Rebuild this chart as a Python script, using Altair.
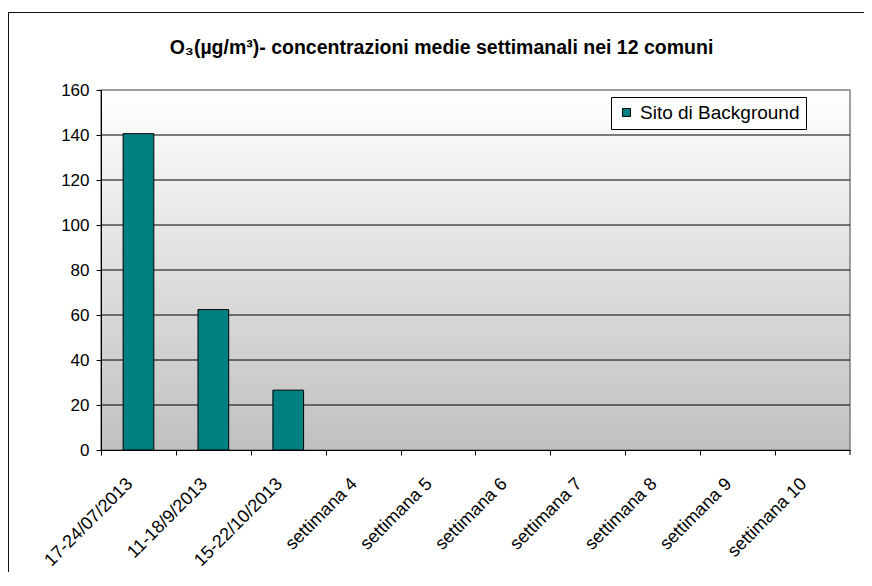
import altair as alt
import pandas as pd

categories = ["17-24/07/2013", "11-18/9/2013", "15-22/10/2013", "settimana 4",
              "settimana 5", "settimana 6", "settimana 7", "settimana 8",
              "settimana 9", "settimana 10"]
values = [140.6, 62.4, 26.6, None, None, None, None, None, None, None]
series_name = "Sito di Background"
grid_values = [20, 40, 60, 80, 100, 120, 140]
y_ticks = [0, 20, 40, 60, 80, 100, 120, 140, 160]
title_text = "O\u2083(\u00b5g/m\u00b3)- concentrazioni medie settimanali nei 12 comuni"

W, H = 749, 360
STEP = W / len(categories)
FONT = "Liberation Sans"

bars_df = pd.DataFrame({"cat": categories, "val": values, "serie": series_name})
grid_df = pd.DataFrame({"g": grid_values})
one = pd.DataFrame({"t": [title_text]})

yscale = alt.Scale(domain=[0, 160], nice=False, zero=True)
y_axis = alt.Axis(
    title=None,
    values=y_ticks,
    labelFont=FONT,
    labelFontSize=17,
    labelColor="black",
    labelPadding=7,
    domainColor="black",
    domainWidth=1,
    tickColor="black",
    tickSize=5,
    grid=False,
    zindex=1,
)

frame_left = alt.Chart(one).mark_rule(color="#111111", strokeWidth=1).encode(
    x=alt.value(-92.5), y=alt.value(-78), y2=alt.value(H + 122)
)
frame_top = alt.Chart(one).mark_rule(color="#111111", strokeWidth=1).encode(
    x=alt.value(-93), x2=alt.value(W + 14), y=alt.value(-77.5)
)

background = alt.Chart(one).mark_rect(
    fill=alt.Gradient(
        gradient="linear",
        stops=[alt.GradientStop(color="#ffffff", offset=0),
               alt.GradientStop(color="#c0c0c0", offset=1)],
        x1=0, x2=0, y1=0, y2=1,
    ),
    stroke="#808080",
    strokeWidth=1.5,
).encode(x=alt.value(0), x2=alt.value(W), y=alt.value(0), y2=alt.value(H))

grid = alt.Chart(grid_df).mark_rule(color="black", strokeWidth=1).encode(
    y=alt.Y("g:Q", scale=yscale, axis=y_axis)
)

end_tick = alt.Chart(one).mark_rule(color="black", strokeWidth=1).encode(
    x=alt.value(W), y=alt.value(H), y2=alt.value(H + 5)
)

bars = alt.Chart(bars_df).mark_bar(stroke="black", strokeWidth=1, opacity=1).encode(
    x=alt.X(
        "cat:N",
        sort=categories,
        scale=alt.Scale(domain=categories, paddingInner=0.59, paddingOuter=0.295),
        axis=alt.Axis(
            title=None,
            labelAngle=315,
            labelAlign="right",
            labelBaseline="middle",
            labelPadding=26,
            tickOffset=-STEP / 2,
            labelOffset=STEP / 2 - 9,
            labelFont=FONT,
            labelFontSize=18,
            labelColor="black",
            domainColor="black",
            domainWidth=1,
            tickColor="black",
            tickSize=5,
            grid=False,
            zindex=1,
        ),
    ),
    y=alt.Y("val:Q", scale=yscale, axis=y_axis),
    color=alt.Color(
        "serie:N",
        scale=alt.Scale(domain=[series_name], range=["#008080"]),
        legend=alt.Legend(
            title=None,
            orient="none",
            legendX=510,
            legendY=7,
            symbolType="square",
            symbolSize=64,
            symbolStrokeColor="black",
            symbolStrokeWidth=1,
            symbolOpacity=1,
            labelFont=FONT,
            labelFontSize=19,
            labelColor="black",
            labelOffset=4,
            strokeColor="black",
            fillColor="white",
            padding=6,
        ),
    ),
)

title = alt.Chart(one).mark_text(
    font=FONT, fontSize=19.5, fontWeight="bold", color="black",
    align="center", baseline="alphabetic",
).encode(x=alt.value(340.5), y=alt.value(-36), text="t:N")

chart = alt.layer(frame_left, frame_top, background, grid, end_tick, bars, title).properties(
    width=W,
    height=H,
    padding={"left": 93, "top": 82, "right": 14, "bottom": 123},
    autosize=alt.AutoSizeParams(type="none"),
    background="white",
).configure_view(strokeWidth=0)

chart.save("out.html", embed_options={"renderer": "svg", "actions": False})
